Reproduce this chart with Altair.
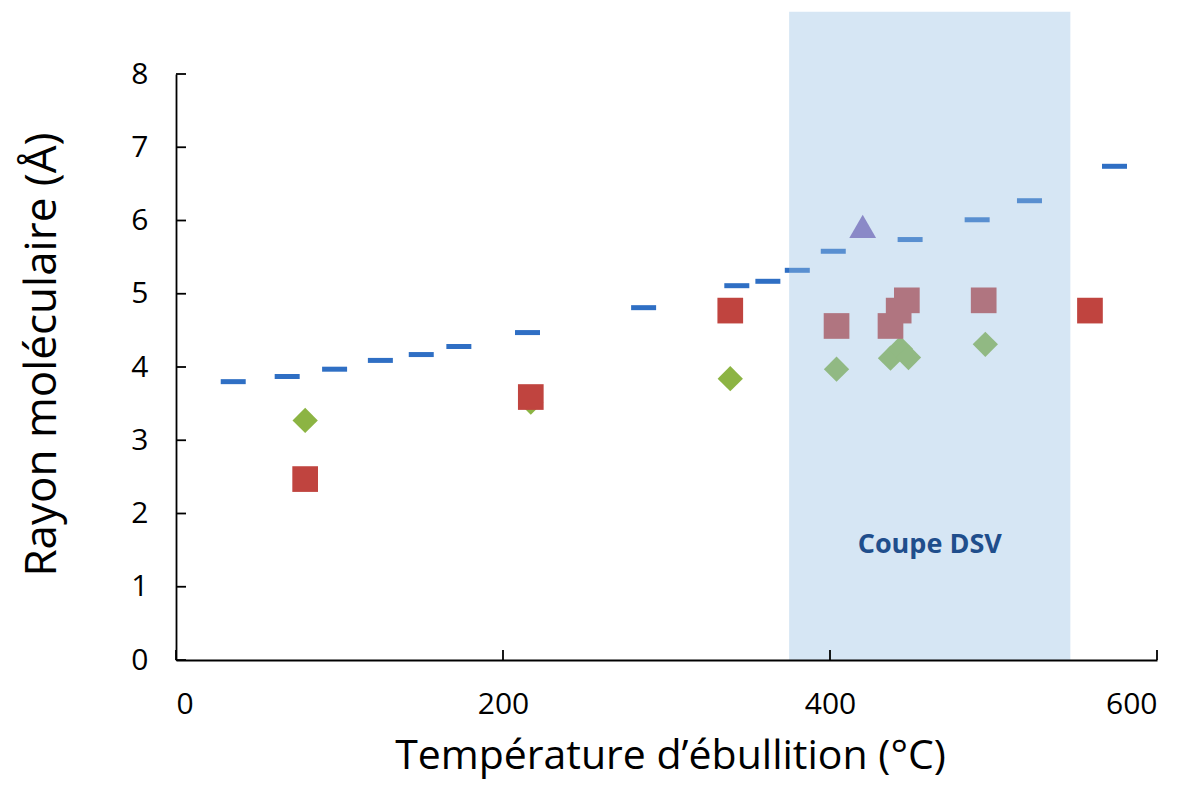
import altair as alt
import pandas as pd

# Blue dashes (series 1)
dash_x = [35, 68, 97, 125, 150, 173, 215, 286, 343, 362, 380, 402, 449, 490, 522, 574]
dash_y = [3.80, 3.87, 3.97, 4.09, 4.17, 4.28, 4.47, 4.81, 5.11, 5.17, 5.32, 5.58, 5.74, 6.01, 6.27, 6.74]
# Green diamonds
diamond_x = [79, 217, 339, 404, 437, 443, 448, 495]
diamond_y = [3.27, 3.52, 3.84, 3.97, 4.12, 4.25, 4.13, 4.31]
# Red squares
square_x = [79, 217, 339, 404, 437, 442, 447, 494, 559]
square_y = [2.47, 3.59, 4.77, 4.56, 4.56, 4.77, 4.91, 4.91, 4.77]
# Purple triangle
triangle_x = [420]
triangle_y = [5.92]

# Shaded "Coupe DSV" band
band_start = [375]
band_end = [547]
band_label = ["Coupe DSV"]

x_ticks = [0, 200, 400, 600]
y_ticks = [0, 1, 2, 3, 4, 5, 6, 7, 8]

W, H = 981, 586

xscale = alt.Scale(domain=[0, 600], nice=False, zero=False)
yscale = alt.Scale(domain=[0, 8], nice=False, zero=False)

xax = alt.Axis(values=x_ticks, format="d", ticks=False, tickSize=0, grid=False, labelPadding=29,
               title="Température d\u2019ébullition (°C)", titleX=494, titleY=108,
               titleBaseline="alphabetic", titleAngle=0, titleFontSize=41, zindex=1)
yax = alt.Axis(values=y_ticks, format="d", ticks=False, tickSize=0, grid=False, labelPadding=28,
               title="Rayon moléculaire (Å)", titleX=-121, titleY=280, titleAngle=-90,
               titleBaseline="alphabetic", titleAlign="center", titleFontSize=44, zindex=1)

dash_df = pd.DataFrame({"x": dash_x, "y": dash_y})
dia_df = pd.DataFrame({"x": diamond_x, "y": diamond_y})
sq_df = pd.DataFrame({"x": square_x, "y": square_y})
tri_df = pd.DataFrame({"x": triangle_x, "y": triangle_y})
band_df = pd.DataFrame({"x": band_start, "x2": band_end, "y": [0], "y2": [8.85],
                        "label": band_label, "lx": [461], "ly": [1.57]})

diamonds = alt.Chart(dia_df).mark_point(shape="diamond", filled=True, size=640,
                                        color="#8cb443", opacity=1).encode(
    x=alt.X("x:Q", scale=xscale, axis=xax),
    y=alt.Y("y:Q", scale=yscale, axis=yax),
)
squares = alt.Chart(sq_df).mark_point(shape="square", filled=True, size=660,
                                      color="#c0443f", opacity=1).encode(
    x=alt.X("x:Q", scale=xscale), y=alt.Y("y:Q", scale=yscale))
triangle = alt.Chart(tri_df).mark_point(shape="triangle-up", filled=True, size=720,
                                        color="#8064b4", opacity=1).encode(
    x=alt.X("x:Q", scale=xscale), y=alt.Y("y:Q", scale=yscale))
dashes = alt.Chart(dash_df).mark_tick(orient="horizontal", size=25, thickness=5,
                                      color="#2f6fc4", opacity=1).encode(
    x=alt.X("x:Q", scale=xscale), y=alt.Y("y:Q", scale=yscale))

band = alt.Chart(band_df).mark_rect(color="#98c0e3", opacity=0.4, clip=False).encode(
    x=alt.X("x:Q", scale=xscale), x2="x2:Q",
    y=alt.Y("y:Q", scale=yscale), y2="y2:Q")
band_text = alt.Chart(band_df).mark_text(font="Open Sans", fontWeight="bold", fontSize=27,
                                         color="#1f4e8c", align="center", baseline="middle").encode(
    x=alt.X("lx:Q", scale=xscale), y=alt.Y("ly:Q", scale=yscale), text="label:N")

xt_df = pd.DataFrame({"x": x_ticks})
yt_df = pd.DataFrame({"y": y_ticks})
xtick_marks = alt.Chart(xt_df).mark_rule(color="#000", strokeWidth=1.8).encode(
    x=alt.X("x:Q", scale=xscale), y=alt.value(H), y2=alt.value(H - 10))
ytick_marks = alt.Chart(yt_df).mark_rule(color="#000", strokeWidth=1.8).encode(
    y=alt.Y("y:Q", scale=yscale), x=alt.value(0), x2=alt.value(10))

chart = alt.layer(diamonds, squares, triangle, dashes, band, band_text,
                  xtick_marks, ytick_marks).properties(
    width=W, height=H,
    autosize=alt.AutoSizeParams(type="none"),
    padding={"left": 168, "top": 66, "right": 24, "bottom": 122},
    background="white",
).configure_view(stroke=None).configure_axis(
    labelFont="Open Sans", labelFontSize=30, labelColor="#000",
    titleFont="Open Sans", titleFontWeight="normal", titleColor="#000",
    domainColor="#000", domainWidth=1.8,
)

chart.save("out.html", embed_options={"renderer": "svg", "actions": False})
